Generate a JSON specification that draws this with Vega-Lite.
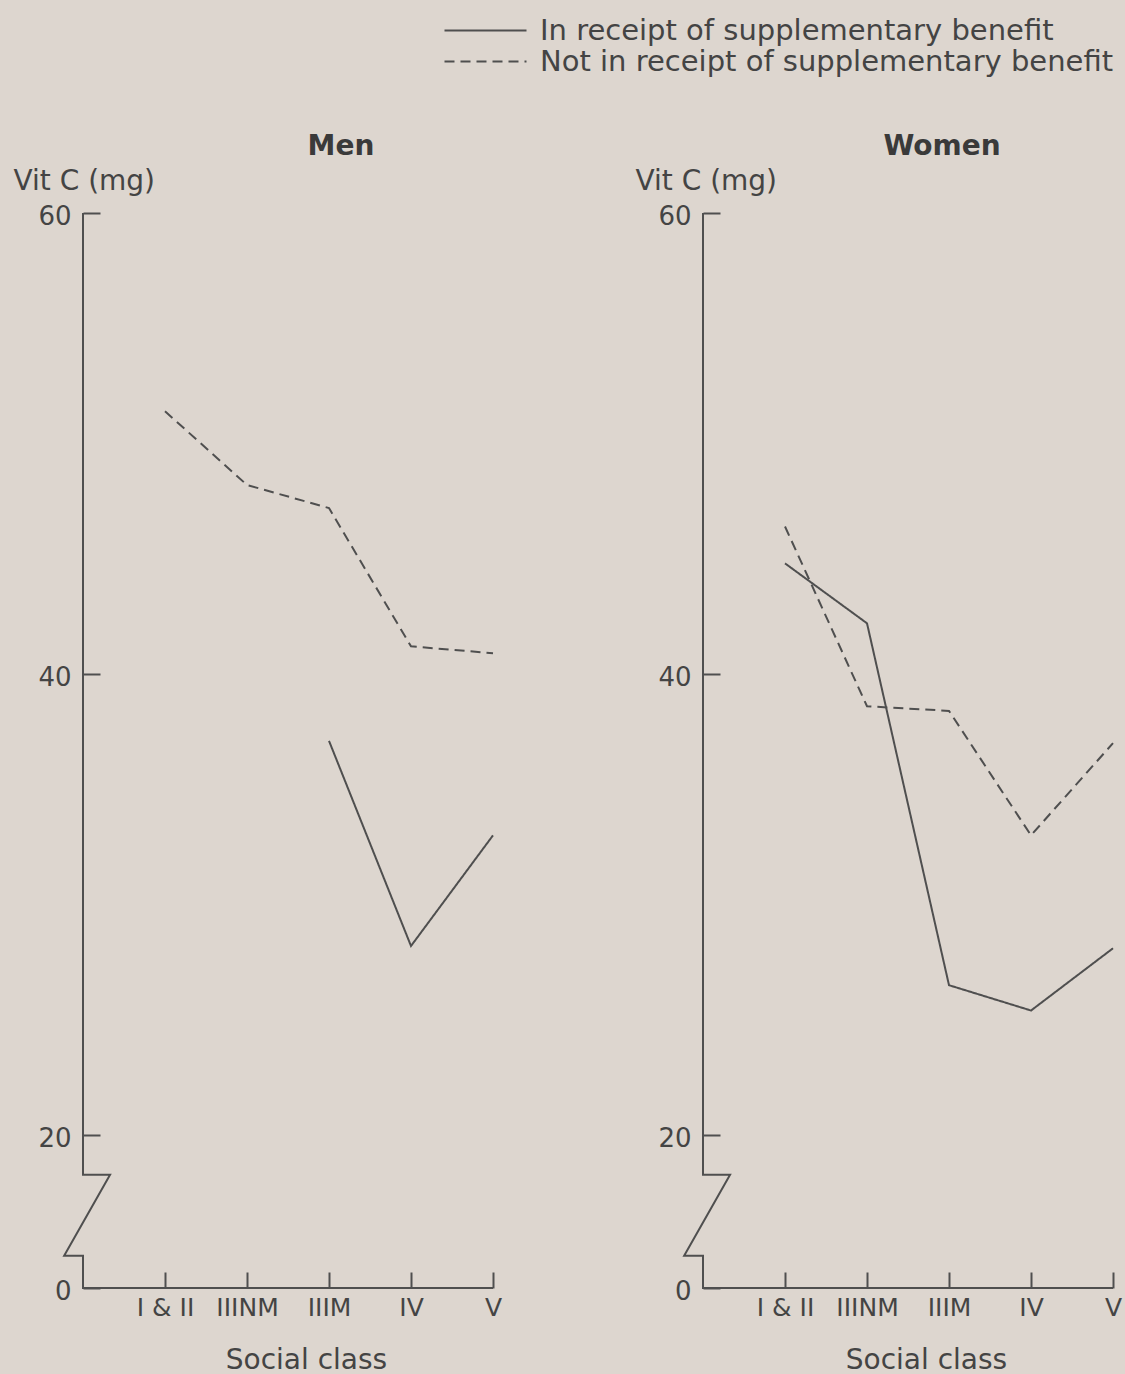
{
  "$schema": "https://vega.github.io/schema/vega-lite/v6.json",
  "background": "#ddd6cf",
  "padding": {"left": 13, "top": 16, "right": 5, "bottom": 5},
  "bounds": "flush",
  "spacing": 210,
  "config": {
    "view": {"stroke": null},
    "font": "DejaVu Sans",
    "line": {"color": "#4f4f4f", "strokeWidth": 2},
    "axis": {"labelColor": "#444444", "titleColor": "#444444", "tickColor": "#4f4f4f", "domainColor": "#4f4f4f", "grid": false}
  },
  "datasets": {
    "vitc": [
      {"sex": "Men", "benefit": "In receipt of supplementary benefit", "class": "IIIM", "v": 37.1},
      {"sex": "Men", "benefit": "In receipt of supplementary benefit", "class": "IV", "v": 28.2},
      {"sex": "Men", "benefit": "In receipt of supplementary benefit", "class": "V", "v": 33.0},
      {"sex": "Men", "benefit": "Not in receipt of supplementary benefit", "class": "I & II", "v": 51.4},
      {"sex": "Men", "benefit": "Not in receipt of supplementary benefit", "class": "IIINM", "v": 48.2},
      {"sex": "Men", "benefit": "Not in receipt of supplementary benefit", "class": "IIIM", "v": 47.2},
      {"sex": "Men", "benefit": "Not in receipt of supplementary benefit", "class": "IV", "v": 41.2},
      {"sex": "Men", "benefit": "Not in receipt of supplementary benefit", "class": "V", "v": 40.9},
      {"sex": "Women", "benefit": "In receipt of supplementary benefit", "class": "I & II", "v": 44.8},
      {"sex": "Women", "benefit": "In receipt of supplementary benefit", "class": "IIINM", "v": 42.2},
      {"sex": "Women", "benefit": "In receipt of supplementary benefit", "class": "IIIM", "v": 26.5},
      {"sex": "Women", "benefit": "In receipt of supplementary benefit", "class": "IV", "v": 25.4},
      {"sex": "Women", "benefit": "In receipt of supplementary benefit", "class": "V", "v": 28.1},
      {"sex": "Women", "benefit": "Not in receipt of supplementary benefit", "class": "I & II", "v": 46.4},
      {"sex": "Women", "benefit": "Not in receipt of supplementary benefit", "class": "IIINM", "v": 38.6},
      {"sex": "Women", "benefit": "Not in receipt of supplementary benefit", "class": "IIIM", "v": 38.4},
      {"sex": "Women", "benefit": "Not in receipt of supplementary benefit", "class": "IV", "v": 33.0},
      {"sex": "Women", "benefit": "Not in receipt of supplementary benefit", "class": "V", "v": 37.0}
    ],
    "frame": [
      {"k": 1, "fx": 0, "v": 60},
      {"k": 2, "fx": 0, "v": 14.8},
      {"k": 3, "fx": 0.33, "v": 14.8},
      {"k": 4, "fx": -0.23, "v": 4.2},
      {"k": 5, "fx": 0, "v": 4.2},
      {"k": 6, "fx": 0, "v": 0},
      {"k": 7, "fx": 5, "v": 0}
    ]
  },
  "resolve": {"scale": {"strokeDash": "shared"}, "legend": {"strokeDash": "shared"}},
  "hconcat": [
    {
      "width": 410,
      "height": 1075,
      "title": {"text": "Men", "fontSize": 28, "fontWeight": "bold", "color": "#3a3a3a", "anchor": "middle", "dx": 53, "offset": 6},
      "resolve": {"scale": {"x": "independent"}},
      "layer": [
        {
          "data": {"name": "frame"},
          "mark": {"type": "line", "strokeJoin": "miter"},
          "encoding": {
            "x": {"field": "fx", "type": "quantitative", "scale": {"domain": [0, 5], "nice": false, "zero": false}, "axis": null},
            "y": {"field": "v", "type": "quantitative", "scale": {"domain": [0, 20, 60], "range": [1075, 922, 0], "nice": false, "zero": false},
                  "axis": {"values": [0, 20, 40, 60], "domain": false, "tickSize": -17, "tickWidth": 2, "labelPadding": 29, "labelFontSize": 26, "labelOffset": 3,
                           "title": "Vit C (mg)", "titleAngle": 0, "titleAlign": "left", "titleBaseline": "alphabetic", "titleX": -70, "titleY": -24, "titleFontSize": 28, "titleFontWeight": "normal"}},
            "order": {"field": "k"}
          }
        },
        {
          "data": {"name": "vitc"},
          "transform": [{"filter": "datum.sex === 'Men'"}],
          "mark": {"type": "line"},
          "encoding": {
            "x": {"field": "class", "type": "ordinal", "sort": ["I & II", "IIINM", "IIIM", "IV", "V"], "scale": {"type": "point", "range": [82, 410], "padding": 0},
                  "axis": {"domain": false, "tickSize": -16, "tickWidth": 2, "labelPadding": 23, "labelFontSize": 25, "labelAngle": 0,
                           "title": "Social class", "titleFontSize": 28, "titleFontWeight": "normal", "titleX": 223, "titleY": 80, "titleBaseline": "alphabetic", "titleAlign": "center"}},
            "y": {"field": "v", "type": "quantitative", "scale": {"domain": [0, 20, 60], "range": [1075, 922, 0], "nice": false, "zero": false},
                  "axis": {"values": [0, 20, 40, 60], "domain": false, "tickSize": -17, "tickWidth": 2, "labelPadding": 29, "labelFontSize": 26, "labelOffset": 3,
                           "title": "Vit C (mg)", "titleAngle": 0, "titleAlign": "left", "titleBaseline": "alphabetic", "titleX": -70, "titleY": -24, "titleFontSize": 28, "titleFontWeight": "normal"}},
            "strokeDash": {"field": "benefit", "type": "nominal",
                           "scale": {"domain": ["In receipt of supplementary benefit", "Not in receipt of supplementary benefit"], "range": [[1, 0], [10, 6]]},
                           "legend": {"orient": "none", "legendX": 388, "legendY": -197, "title": null, "symbolType": "M-5,0H5", "symbolSize": 269, "symbolStrokeWidth": 2, "symbolStrokeColor": "#4f4f4f", "symbolFillColor": "transparent",
                                      "labelFontSize": 29, "labelColor": "#444444", "labelOffset": 40, "rowPadding": 1, "labelLimit": 800}}
          }
        }
      ]
    },
    {
      "width": 410,
      "height": 1075,
      "title": {"text": "Women", "fontSize": 28, "fontWeight": "bold", "color": "#3a3a3a", "anchor": "middle", "dx": 34, "offset": 6},
      "resolve": {"scale": {"x": "independent"}},
      "layer": [
        {
          "data": {"name": "frame"},
          "mark": {"type": "line", "strokeJoin": "miter"},
          "encoding": {
            "x": {"field": "fx", "type": "quantitative", "scale": {"domain": [0, 5], "nice": false, "zero": false}, "axis": null},
            "y": {"field": "v", "type": "quantitative", "scale": {"domain": [0, 20, 60], "range": [1075, 922, 0], "nice": false, "zero": false},
                  "axis": {"values": [0, 20, 40, 60], "domain": false, "tickSize": -17, "tickWidth": 2, "labelPadding": 29, "labelFontSize": 26, "labelOffset": 3,
                           "title": "Vit C (mg)", "titleAngle": 0, "titleAlign": "left", "titleBaseline": "alphabetic", "titleX": -68, "titleY": -24, "titleFontSize": 28, "titleFontWeight": "normal"}},
            "order": {"field": "k"}
          }
        },
        {
          "data": {"name": "vitc"},
          "transform": [{"filter": "datum.sex === 'Women'"}],
          "mark": {"type": "line"},
          "encoding": {
            "x": {"field": "class", "type": "ordinal", "sort": ["I & II", "IIINM", "IIIM", "IV", "V"], "scale": {"type": "point", "range": [82, 410], "padding": 0},
                  "axis": {"domain": false, "tickSize": -16, "tickWidth": 2, "labelPadding": 23, "labelFontSize": 25, "labelAngle": 0,
                           "title": "Social class", "titleFontSize": 28, "titleFontWeight": "normal", "titleX": 223, "titleY": 80, "titleBaseline": "alphabetic", "titleAlign": "center"}},
            "y": {"field": "v", "type": "quantitative", "scale": {"domain": [0, 20, 60], "range": [1075, 922, 0], "nice": false, "zero": false},
                  "axis": {"values": [0, 20, 40, 60], "domain": false, "tickSize": -17, "tickWidth": 2, "labelPadding": 29, "labelFontSize": 26, "labelOffset": 3,
                           "title": "Vit C (mg)", "titleAngle": 0, "titleAlign": "left", "titleBaseline": "alphabetic", "titleX": -68, "titleY": -24, "titleFontSize": 28, "titleFontWeight": "normal"}},
            "strokeDash": {"field": "benefit", "type": "nominal",
                           "scale": {"domain": ["In receipt of supplementary benefit", "Not in receipt of supplementary benefit"], "range": [[1, 0], [10, 6]]},
                           "legend": {"orient": "none", "legendX": 388, "legendY": -197, "title": null, "symbolType": "M-5,0H5", "symbolSize": 269, "symbolStrokeWidth": 2, "symbolStrokeColor": "#4f4f4f", "symbolFillColor": "transparent",
                                      "labelFontSize": 29, "labelColor": "#444444", "labelOffset": 40, "rowPadding": 1, "labelLimit": 800}}
          }
        }
      ]
    }
  ]
}
